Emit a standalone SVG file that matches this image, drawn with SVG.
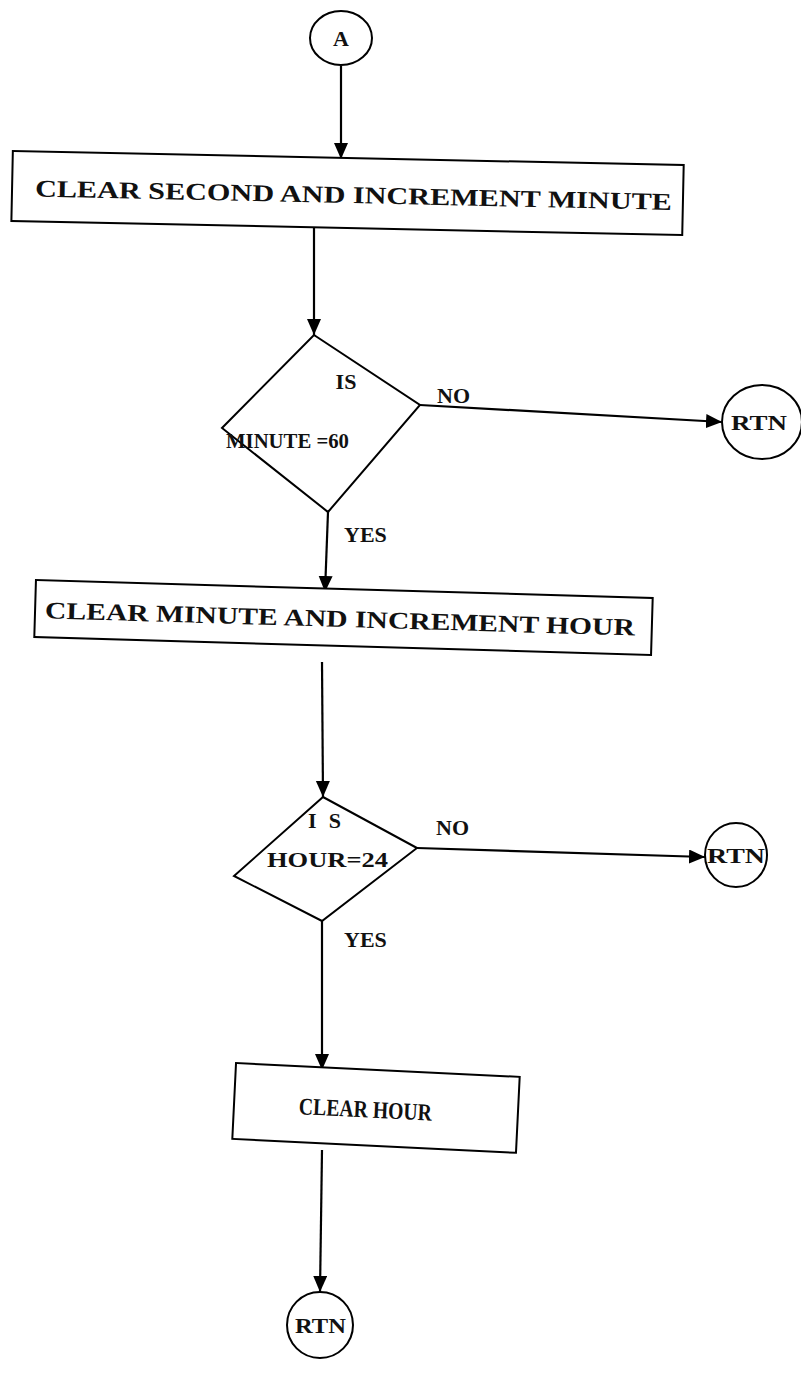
<svg xmlns="http://www.w3.org/2000/svg" width="801" height="1379" viewBox="0 0 801 1379">
<defs>
<style>
.shape{fill:#fff;stroke:#000;stroke-width:2}
.edge{fill:none;stroke:#000;stroke-width:2.2}
.t{font-family:"Liberation Serif","Times New Roman",serif;font-weight:bold;fill:#111;font-size:22px}
.bt{font-family:"Liberation Serif","Times New Roman",serif;font-weight:bold;fill:#111;font-size:24px}
</style>
<marker id="ah" markerUnits="userSpaceOnUse" markerWidth="16" markerHeight="16" refX="16" refY="7" orient="auto">
<path d="M0,0 L16,7 L0,14 z" fill="#000"/>
</marker>
</defs>
<rect width="801" height="1379" fill="#fff"/>
<g id="connectors">
<line class="edge" x1="341" y1="66" x2="341" y2="159" marker-end="url(#ah)"/>
<line class="edge" x1="314" y1="227" x2="314" y2="335" marker-end="url(#ah)"/>
<line class="edge" x1="420" y1="405" x2="722" y2="422" marker-end="url(#ah)"/>
<line class="edge" x1="328" y1="512" x2="325" y2="592" marker-end="url(#ah)"/>
<line class="edge" x1="322" y1="662" x2="323" y2="797" marker-end="url(#ah)"/>
<line class="edge" x1="417" y1="848" x2="705" y2="857" marker-end="url(#ah)"/>
<line class="edge" x1="322" y1="921" x2="322" y2="1070" marker-end="url(#ah)"/>
<line class="edge" x1="322" y1="1150" x2="320" y2="1292" marker-end="url(#ah)"/>
</g>
<g id="nodeA">
<ellipse class="shape" cx="341" cy="38" rx="31" ry="27"/>
<text class="t" x="341" y="46" text-anchor="middle" font-size="23">A</text>
</g>
<g id="box1" transform="rotate(1.2 347 195)">
<rect class="shape" x="12" y="158" width="671" height="70"/>
<text class="bt" x="35" y="203" textLength="637" lengthAdjust="spacingAndGlyphs">CLEAR  SECOND  AND INCREMENT MINUTE</text>
</g>
<g id="dec1">
<polygon class="shape" points="314,335 420,405 328,512 222,428"/>
<text class="t" x="346" y="389" text-anchor="middle">IS</text>
<text class="t" x="226" y="448" textLength="123" lengthAdjust="spacingAndGlyphs">MINUTE =60</text>
<text class="t" x="437" y="403">NO</text>
<text class="t" x="344" y="542">YES</text>
</g>
<g id="rtn1">
<ellipse class="shape" cx="762" cy="422" rx="40" ry="37"/>
<text class="t" x="731" y="430" textLength="56" lengthAdjust="spacingAndGlyphs">RTN</text>
</g>
<g id="box2" transform="rotate(1.67 343.5 617.5)">
<rect class="shape" x="35" y="589" width="617" height="57"/>
<text class="bt" x="45" y="627" textLength="590" lengthAdjust="spacingAndGlyphs">CLEAR   MINUTE   AND   INCREMENT  HOUR</text>
</g>
<g id="dec2">
<polygon class="shape" points="323,797 417,848 322,921 234,876"/>
<text class="t" x="308" y="828" textLength="33" lengthAdjust="spacing">I S</text>
<text class="t" x="267" y="867" textLength="121" lengthAdjust="spacingAndGlyphs">HOUR=24</text>
<text class="t" x="436" y="835">NO</text>
<text class="t" x="344" y="947">YES</text>
</g>
<g id="rtn2">
<ellipse class="shape" cx="736" cy="855" rx="31" ry="32"/>
<text class="t" x="707" y="863" textLength="58" lengthAdjust="spacingAndGlyphs">RTN</text>
</g>
<g id="box3" transform="rotate(2.8 378 1108)">
<rect class="shape" x="234" y="1070" width="284" height="76"/>
<text class="bt" x="299" y="1118" textLength="133" lengthAdjust="spacingAndGlyphs">CLEAR HOUR</text>
</g>
<g id="rtn3">
<ellipse class="shape" cx="320" cy="1325" rx="33" ry="33"/>
<text class="t" x="295" y="1333" textLength="51" lengthAdjust="spacingAndGlyphs">RTN</text>
</g>
</svg>
